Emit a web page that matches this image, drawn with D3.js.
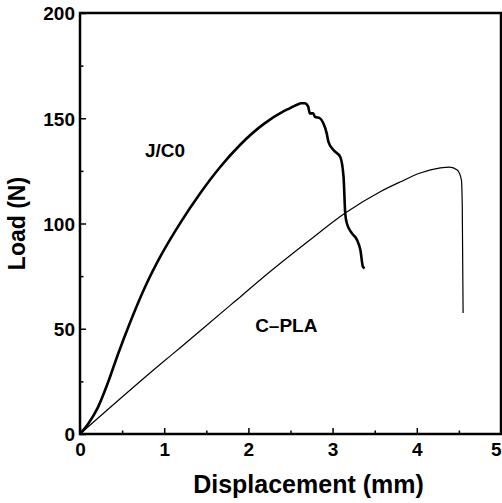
<!DOCTYPE html>
<html>
<head>
<meta charset="utf-8">
<script src="https://cdn.jsdelivr.net/npm/d3@7"></script>
<style>
  body { margin: 0; background: #fff; }
  #chart { width: 502px; height: 503px; }
  text { font-family: "Liberation Sans", Arial, sans-serif; font-weight: bold; }
</style>
</head>
<body>
<div id="chart"></div>
<script>
// Set the dimensions of the canvas / graph
const margin = { top: 13, right: 1, bottom: 69, left: 80 },
    width = 502 - margin.left - margin.right,
    height = 503 - margin.top - margin.bottom;

// J/C0 curve (displacement mm, load N)
const jc0X = [0, 0.10, 0.21, 0.33, 0.45, 0.59, 0.77, 0.95, 1.19, 1.43, 1.66, 1.90, 2.18, 2.41, 2.49, 2.57, 2.63, 2.67,
    2.71, 2.73, 2.77, 2.79, 2.85, 2.89, 2.93, 2.95, 3.01, 3.09, 3.13, 3.15, 3.17, 3.23, 3.29, 3.33, 3.36, 3.38];
const jc0Y = [0, 5.0, 12.4, 24.2, 37.8, 52.5, 69.6, 84, 100.2, 114.5, 126.6, 137.3, 147.2, 153.1, 154.7, 156.3, 157.1, 157.1,
    155.5, 152.3, 152.3, 150.7, 150, 147.6, 142.8, 138.9, 134.9, 131.7, 122.2, 104.8, 100, 95.3, 92.2, 87.4, 79.5, 78.7];

// C-PLA curve
const cplaX = [0, 0.95, 1.19, 1.78, 1.90, 2.18, 2.73, 3.15, 3.56, 3.80, 4.04, 4.28, 4.39, 4.48, 4.53, 4.54, 4.55];
const cplaY = [0, 33, 41, 61, 65, 74.6, 92.2, 105, 115, 119.7, 124, 126.4, 126.8, 125.4, 120.7, 107.8, 57.5];

const xTicks = [0, 1, 2, 3, 4, 5];
const yTicks = [0, 50, 100, 150, 200];

const labels = [
    { text: "J/C0", x: 1.01, y: 131.5 },
    { text: "C\u2013PLA", x: 2.45, y: 48.5 }
];

// Set the ranges
var x = d3.scaleLinear().domain([0, 5]).range([0, width]);
var y = d3.scaleLinear().domain([0, 200]).range([height, 0]);

var svg = d3.select("#chart")
    .append("svg")
    .attr("width", width + margin.left + margin.right)
    .attr("height", height + margin.top + margin.bottom)
    .append("g")
    .attr("transform", "translate(" + margin.left + "," + margin.top + ")");

// minor ticks
var xMinor = d3.axisBottom(x).tickValues(d3.range(0.5, 5, 1)).tickSize(-3.5).tickFormat("");
var yMinor = d3.axisLeft(y).tickValues(d3.range(25, 200, 50)).tickSize(-3.5).tickFormat("");

svg.append("g").attr("transform", "translate(0," + height + ")").call(xMinor);
svg.append("g").call(yMinor);

// major ticks
var xAxis = svg.append("g")
    .attr("transform", "translate(0," + height + ")")
    .call(d3.axisBottom(x).tickValues(xTicks).tickSize(-6).tickPadding(9).tickFormat(d3.format("d")));
var yAxis = svg.append("g")
    .call(d3.axisLeft(y).tickValues(yTicks).tickSize(-6).tickPadding(5).tickFormat(d3.format("d")));

svg.selectAll(".domain").remove();
svg.selectAll(".tick line").attr("stroke", "#000").attr("stroke-width", 1.5);
svg.selectAll(".tick text").style("font-size", "19px").attr("fill", "#000");
yAxis.selectAll(".tick text").attr("dy", "0.36em");
// last x label sits on the right edge, keep it inside the page
xAxis.selectAll(".tick text").filter(d => d === 5).attr("text-anchor", "end");

// frame
svg.append("rect")
    .attr("x", 0).attr("y", 0)
    .attr("width", width).attr("height", height)
    .attr("fill", "none")
    .attr("stroke", "#000")
    .attr("stroke-width", 2.5);

var line = d3.line()
    .x(d => x(d[0]))
    .y(d => y(d[1]))
    .curve(d3.curveMonotoneX);

svg.append("path")
    .datum(d3.zip(cplaX, cplaY))
    .attr("fill", "none")
    .attr("stroke", "#000")
    .attr("stroke-width", 1.2)
    .attr("d", line);

svg.append("path")
    .datum(d3.zip(jc0X, jc0Y))
    .attr("fill", "none")
    .attr("stroke", "#000")
    .attr("stroke-width", 2.6)
    .attr("stroke-linejoin", "round")
    .attr("d", line);

svg.selectAll(".curve-label")
    .data(labels)
    .enter().append("text")
    .attr("class", "curve-label")
    .attr("x", d => x(d.x))
    .attr("y", d => y(d.y))
    .attr("text-anchor", "middle")
    .style("font-size", "19px")
    .text(d => d.text);

// axis titles
svg.append("text")
    .attr("x", width / 2 + 18)
    .attr("y", height + 59)
    .attr("text-anchor", "middle")
    .style("font-size", "25px")
    .text("Displacement (mm)");

svg.append("text")
    .attr("transform", "translate(-55," + (height / 2) + ") rotate(-90)")
    .attr("text-anchor", "middle")
    .style("font-size", "23px")
    .text("Load (N)");
</script>
</body>
</html>
